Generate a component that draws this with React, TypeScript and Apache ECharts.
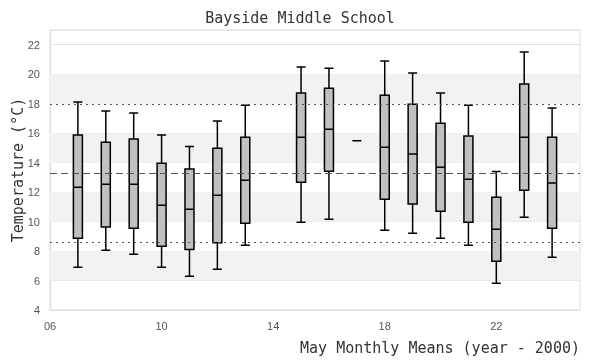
import React, { useEffect, useRef } from "react";
import * as echarts from "echarts";

const years = [7, 8, 9, 10, 11, 12, 13, 15, 16, 17, 18, 19, 20, 21, 22, 23, 24];
const lows = [6.9, 8.05, 7.78, 6.9, 6.29, 6.76, 8.39, 9.96, 10.16, 15.48, 9.41, 9.21, 8.87, 8.39, 5.81, 10.3, 7.58];
const q1s = [8.87, 9.64, 9.55, 8.33, 8.1, 8.57, 9.89, 12.67, 13.42, 15.48, 11.52, 11.2, 10.7, 9.96, 7.31, 12.13, 9.55];
const medians = [12.33, 12.54, 12.54, 11.11, 10.84, 11.79, 12.81, 15.73, 16.27, 15.48, 15.05, 14.58, 13.69, 12.88, 9.48, 15.73, 12.61];
const q3s = [15.87, 15.39, 15.6, 13.96, 13.56, 14.98, 15.73, 18.72, 19.04, 15.48, 18.58, 17.97, 16.68, 15.8, 11.65, 19.33, 15.73];
const highs = [18.11, 17.5, 17.36, 15.87, 15.1, 16.82, 17.9, 20.49, 20.4, 15.48, 20.89, 20.08, 18.72, 17.9, 13.4, 21.5, 17.7];

const overallMean = 13.3;
const upperLimit = 17.98;
const lowerLimit = 8.62;

const bandStarts = [6, 10, 14, 18];
const bandHeight = 2;

const xTicks = [6, 10, 14, 18, 22];
const yTicks = [4, 6, 8, 10, 12, 14, 16, 18, 20, 22];

const mono = "DejaVu Sans Mono";

export default function App() {
  const ref = useRef<HTMLDivElement>(null);
  useEffect(() => {
    if (!ref.current) return;
    const chart = echarts.init(ref.current, null, { renderer: "svg" });
    const boxData = years.map((y, i) => [y, lows[i], q1s[i], medians[i], q3s[i], highs[i]]);
    chart.setOption({
      animation: false,
      title: {
        text: "Bayside Middle School",
        left: "center",
        top: 5,
        textStyle: { fontFamily: mono, fontSize: 15, fontWeight: "normal", color: "#333" },
      },
      grid: {
        left: 50,
        right: 20,
        top: 30,
        bottom: 50,
        show: true,
        borderColor: "#ddd",
        borderWidth: 1,
        containLabel: false,
        outerBoundsMode: "none",
      },
      xAxis: {
        type: "value",
        min: 6,
        max: 25,
        interval: 4,
        axisLine: { show: true, lineStyle: { color: "#ddd" } },
        axisTick: { show: false },
        splitLine: { show: false },
        axisLabel: {
          color: "#555",
          fontSize: 11,
          margin: 10,
          formatter: (v: number) => (xTicks.includes(v) ? String(v).padStart(2, "0") : ""),
        },
        name: "May Monthly Means (year - 2000)",
        nameLocation: "end",
        nameGap: 0,
        nameMoveOverlap: false,
        nameTextStyle: {
          fontFamily: mono,
          fontSize: 15,
          color: "#333",
          align: "right",
          verticalAlign: "top",
          padding: [30, 0, 0, 0],
        },
      },
      yAxis: {
        type: "value",
        min: 4,
        max: 23,
        interval: 2,
        axisLine: { show: true, lineStyle: { color: "#ddd" } },
        axisTick: { show: false },
        splitLine: { show: true, lineStyle: { color: "#e2e2e2" } },
        axisLabel: {
          color: "#555",
          fontSize: 11,
          margin: 10,
          formatter: (v: number) => (yTicks.includes(v) ? String(v) : ""),
        },
        name: "Temperature (°C)",
        nameLocation: "middle",
        nameGap: 25,
        nameMoveOverlap: false,
        nameTextStyle: { fontFamily: mono, fontSize: 15, color: "#333" },
      },
      series: [
        {
          type: "line",
          data: [],
          z: -1,
          silent: true,
          markArea: {
            silent: true,
            itemStyle: { color: "#f2f2f2" },
            data: bandStarts.map((s) => [{ yAxis: s }, { yAxis: s + bandHeight }]),
          },
        },
        {
          type: "boxplot",
          data: boxData,
          encode: { x: 0, y: [1, 2, 3, 4, 5] },
          boxWidth: [9, 9],
          itemStyle: { color: "#c0c0c0", borderColor: "#000", borderWidth: 1.5 },
          markLine: {
            silent: true,
            symbol: "none",
            label: { show: false },
            data: [
              { yAxis: overallMean, lineStyle: { type: [7, 4], color: "#555", width: 1.2 } },
              { yAxis: upperLimit, lineStyle: { type: [2, 4], color: "#555", width: 1.2 } },
              { yAxis: lowerLimit, lineStyle: { type: [2, 4], color: "#555", width: 1.2 } },
            ],
          },
        },
      ],
    });
    return () => chart.dispose();
  }, []);
  return <div ref={ref} style={{ position: "fixed", left: 0, top: 0, width: 600, height: 360 }} />;
}
